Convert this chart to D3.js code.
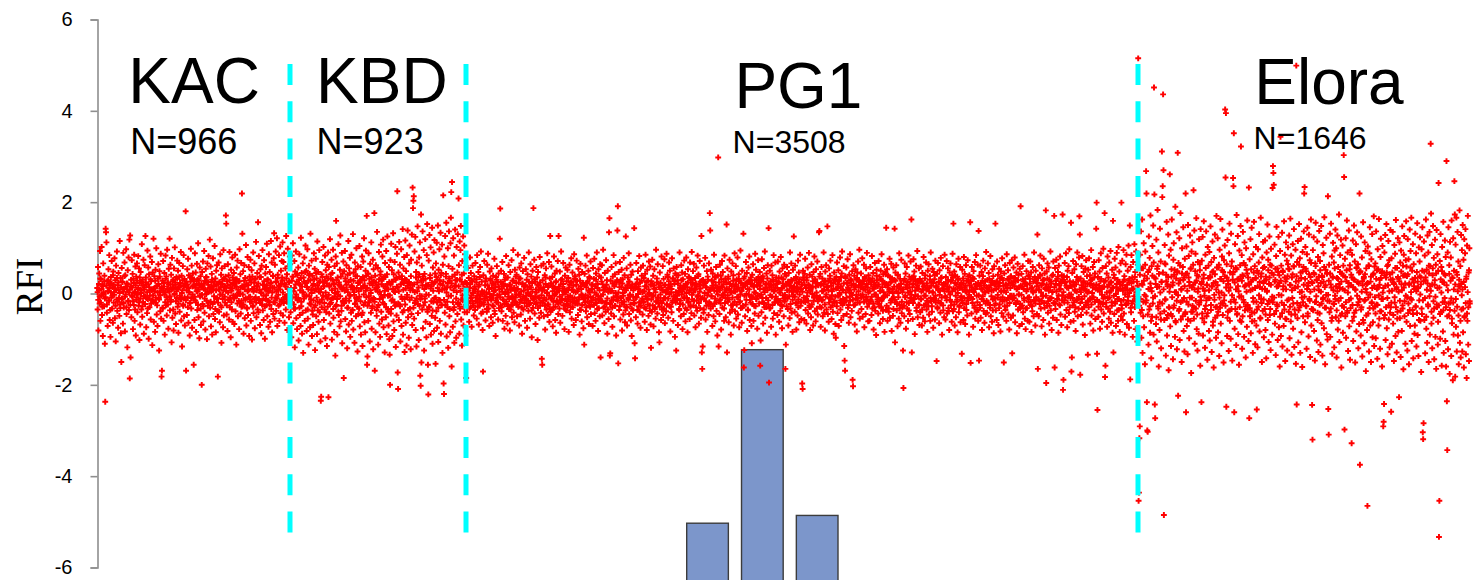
<!DOCTYPE html>
<html><head><meta charset="utf-8">
<script src="https://cdn.jsdelivr.net/npm/d3@7"></script>
<style>body{margin:0;background:#fff}</style>
</head><body><svg id="c" width="1482" height="580"></svg>
<script>
// ---------------- data ----------------
const groups = ["KAC", "KBD", "PG1", "Elora"];
const groupN = [966, 923, 3508, 1646];
const yTicks = [-6, -4, -2, 0, 2, 4, 6];
const barCats = ["b1", "b2", "b3"];
const barValues = [-5.03, -1.23, -4.86];

// RFI values, in plotting order (two passes per group)
const rfiKAC = [
.12,-.35,.58,-.81,.07,.44,-.22,.93,-.6,.31,-.05,1.02,-.47,.19,-.93,.66,.02,-.28,.39,-1.1,
-2.37,1.42,1.34,1.12,-.42,.27,-.71,.05,.53,-.16,.84,-.58,.21,-.95,.36,-.09,.71,-.33,.14,-.64,
.48,-.2,.03,.77,-.54,.29,-1.05,.61,-.13,.92,-.38,.18,-.75,.45,.08,-.49,1.15,-.24,.34,-.87,
-1.5,.56,-.11,.25,-.66,.89,-.31,.1,.68,-.83,.4,-.02,.97,-.45,.22,-1.18,.51,-.17,.79,-.36,
1.18,-1.86,1.27,-1.4,.16,-.52,.73,-.07,.43,-.78,.32,-.25,.85,-.6,.04,.59,-.92,.37,-.14,.66,
-.41,.09,.82,-.27,.55,-1.02,.23,-.68,.47,.01,-.35,1.08,-.51,.3,-.19,.74,-.88,.13,.62,-.06,
1.26,.35,-.74,.2,-.43,.94,-.12,.57,-.99,.42,-.3,.06,.81,-.57,.27,-.15,.69,-1.13,.46,-.04,
1.2,-.62,.38,.11,-.84,.52,-.2,.99,-.46,.17,-.71,.33,.64,-.1,-1.25,.49,.03,-.39,.87,-.55,
-1.82,-1.69,.28,-.33,.71,-.6,.15,.45,-.9,.02,.83,-.26,.37,-.48,.96,-.13,.24,-.77,.54,.08,
1.2,-.37,.63,-.18,.41,-1.07,.78,-.53,.12,.3,-.81,.55,-.02,1.01,-.44,.19,-.67,.36,-.1,.72,
-.29,.5,-.86,.14,.67,-.4,.23,-.13,.91,-.59,.39,-1.16,.07,.6,-.24,.84,-.5,.32,-.7,.18,
1.8,-1.69,.26,-.47,.53,-.08,.76,-.64,.4,.02,-.92,.35,-.2,.98,-.33,.61,-.75,.15,.44,-.11,
-1.56,.31,-.58,.88,-.15,.46,-.84,.21,.65,-.36,.05,1.1,-.52,.29,-.98,.57,-.07,.38,-.69,.13,
-2.0,.47,-.23,.7,-.61,.1,.93,-.42,.28,-.79,.54,-.01,.36,-1.0,.66,-.27,.19,.82,-.5,.04,
1.18,-.31,.59,-.72,.25,.43,-.9,.08,.77,-.45,.16,-.19,1.04,-.56,.33,-.85,.5,-.12,.62,-.38,
-1.82,.22,.68,-.4,.09,-.63,.86,-.26,.41,-1.08,.55,-.03,.3,-.74,.95,-.48,.14,.6,-.2,.37,
1.71,1.53,-.46,.27,-.82,.64,-.14,.4,-.57,.91,-.3,.12,-.96,.52,.06,-.35,.79,-.62,.23,-.09,
.45,-.67,.18,.85,-.39,.31,-1.12,.57,-.05,.72,-.5,.26,.03,-.78,.97,-.21,.42,-.44,.67,-.16,
2.19,1.31,-.28,.49,-.88,.15,.62,-.54,.34,-.1,1.06,-.7,.2,-.33,.8,-.47,.07,.58,-.93,.29,
-.18,.74,-.6,.24,.51,-1.01,.37,-.29,.9,-.43,.11,.66,-.76,.32,-.08,1.13,-.52,.17,.45,-.35,
1.56,-.41,.82,-.15,.36,-.69,.53,.02,-.87,.61,-.24,.95,-.37,.19,-.58,.73,.1,-.99,.44,-.12,
.58,-.26,1.09,-.5,.3,.04,-.73,.86,-.19,.47,-.62,.22,1.15,-.34,.68,-.85,.13,.39,-.45,.77,
1.32,-.55,.63,-.09,.92,-.38,.25,1.21,-.71,.41,.08,-.27,.84,-.6,.16,1.03,-.43,.5,-.17,.71,
.35,1.12,-.48,.69,-.21,.88,-.64,.19,.55,-.35,1.26,-.06,.42,-.8,.98,-.14,.6,-.52,.27,.81
];
const rfiKAC2 = [
.03,-.14,.21,-.06,.33,-.2,.1,-.29,.16,-.01,.27,-.11,-.08,.17,-.24,.05,.29,-.15,.12,-.36,.02,.22,-.05,.4,
.19,-.03,.11,-.27,.07,.34,-.18,.24,-.1,.01,-.32,.14,-.12,.26,.04,-.21,.38,-.07,.15,-.3,.09,.2,-.16,.02,
.08,-.25,.3,-.04,.13,-.17,.23,.01,-.35,.18,-.09,.28,-.02,.12,-.19,.35,-.11,.06,.25,-.28,.17,-.06,.09,-.23,
.24,-.1,.03,-.33,.2,.14,-.05,.31,-.22,.07,-.15,.1,-.18,.05,.28,-.09,.16,-.26,.02,.21,-.13,.37,-.04,.11,
.14,-.31,.06,.23,-.02,-.19,.32,-.08,.1,-.24,.19,.04,-.06,.2,-.14,.09,.27,-.35,.13,-.01,.24,-.17,.05,.33,
.1,-.22,.36,-.05,.18,-.12,.01,.29,-.27,.15,-.08,.22,-.15,.07,.2,-.3,.12,.03,-.21,.26,-.1,.34,-.02,.17,
.27,-.07,.13,-.19,.05,.3,-.25,.09,.18,-.04,-.33,.21,-.03,.16,-.28,.22,-.11,.08,.35,-.16,.02,.25,-.2,.12,
.11,-.18,.04,.3,-.23,.17,-.06,.26,-.34,.07,.19,-.1,-.2,.09,.25,-.02,.14,-.3,.21,-.12,.06,.32,-.07,.16,
.06,-.26,.17,.02,-.13,.29,-.09,.2,-.19,.11,.35,-.04,-.11,.23,-.05,.15,.31,-.22,.08,-.16,.27,-.01,.13,-.29,
.16,-.02,-.24,.28,.09,-.14,.2,-.31,.05,.18,-.08,.37,-.07,.3,-.17,.1,-.26,.04,.24,-.12,.33,-.2,.07,.15,
.22,-.12,.08,-.21,.36,.01,-.15,.19,-.05,.27,-.28,.11,-.04,.18,.31,-.16,.06,-.25,.13,.24,-.09,.02,.38,-.19,
.13,-.2,.26,.05,-.11,.34,-.03,.17,-.24,.09,.21,-.14,.29,.02,-.13,.21,-.07,.15,.33,-.18,.1,-.02,.24,-.09
];

const rfiKBD = [
.64,-.41,.12,-.96,.83,-.2,.37,1.1,-.65,.05,-.33,.71,-1.18,.48,-.09,.92,-.54,.26,-.78,.4,
-.15,.57,-1.03,.3,.86,-.47,.19,-.71,1.22,-.28,.45,-.88,.02,.66,-1.3,.35,-.11,.79,-.6,.23,
1.05,-.37,.5,-.82,.14,.97,-.55,.28,-1.12,.61,-.06,.43,-.74,1.31,-.24,.08,.72,-.93,.39,-.46,
-.69,.21,.88,-.3,.54,-1.24,.1,.76,-.5,.33,-.89,1.14,-.18,.47,-.62,.04,.95,-.41,.27,-1.05,
-2.35,-2.26,.42,-.13,.69,-.77,.25,1.02,-.58,.16,-.35,.83,-.98,.51,-.07,.37,-1.15,.63,-.29,.9,
-2.27,.58,-.44,.18,1.19,-.66,.32,-.2,.74,-1.01,.45,-.1,.96,-.53,.22,-.84,.6,.01,-1.36,.81,
1.59,-.25,.66,-.9,.35,-.03,1.08,-.47,.2,-.72,.52,1.27,-.61,.13,-.38,.89,-1.09,.44,-.16,.7,
-1.85,.49,-.19,.93,-.56,.27,-.83,.62,.09,-1.2,.41,-.31,1.15,-.68,.55,-.04,.78,-.95,.3,-.42,
.85,-.6,.15,-.36,1.3,-.79,.46,.03,-1.08,.68,-.22,.53,-.5,.99,-.14,.38,-1.27,.6,-.45,.24,
-.33,1.04,-.72,.29,.58,-.9,.11,-.47,.81,-1.15,.36,.7,-.25,1.21,-.63,.17,-.85,.5,.94,-.08,
1.7,-1.56,-1.38,.44,-.6,.88,-.19,.32,-1.05,.65,.07,-.42,1.12,-.77,.25,-.28,.74,-1.22,.53,-.12,
1.76,-1.69,.39,-.85,.62,.12,-.49,1.35,-.3,.56,-1.12,.2,.91,-.66,.04,-.95,.48,1.07,-.4,.28,
-.57,.81,-.2,1.18,-.74,.36,-.03,-1.29,.67,.15,-.52,.93,-.89,.42,1.25,-.35,.09,-.7,.58,-1.0,
-1.34,-2.0,.73,-.44,1.09,-.16,.51,-.93,.26,1.32,-.61,.05,-.8,.69,-.27,1.02,-1.17,.34,-.48,.87,
2.24,-1.73,-2.09,.46,-.58,1.13,-.24,.63,-1.05,.2,.97,-.71,.38,-.12,1.41,-.9,.55,-.37,.8,-1.28,
.31,1.16,-.64,.49,-1.14,.84,-.08,1.38,-.52,.22,-.97,.66,1.05,-.33,.12,-1.22,.74,-.45,1.29,-.69,
2.32,1.87,2.03,2.13,-.55,.92,-.21,1.24,-.8,.47,-1.16,.68,.05,1.47,-.43,.36,-1.02,.79,-.27,1.12,
-1.8,-2.02,1.73,-1.51,.61,-.35,1.36,-.76,.29,.95,-1.25,.43,-.11,1.19,-.62,.18,-.96,.84,1.52,-.4,
-1.56,-2.21,.72,-.3,1.28,-.67,.4,1.01,-.9,.16,-.49,1.44,-1.1,.57,-.18,.9,-.82,1.17,.25,-.53,
-1.54,.66,-.39,1.11,-.75,.3,1.49,-1.06,.52,-.14,.97,-.6,.21,1.33,-.88,.45,-.26,1.07,-1.3,.63,
2.15,-1.97,-2.2,.81,-.42,1.26,-.68,.37,1.55,-.94,.14,-.3,.99,-1.19,.6,1.36,-.5,.28,-.85,1.1,
1.66,2.22,-1.6,2.44,.54,-.73,1.21,-.36,.83,-1.08,.41,1.4,-.61,.17,-.97,1.02,.3,-.45,1.3,-.2,
2.08,.62,-.88,1.14,-.33,.95,1.48,-.57,.26,-1.14,.71,-.15,1.25,-.7,.44,1.05,-.41,.86,-.92,.58
];
const rfiKBD2 = [
.05,-.19,.28,-.08,.37,-.24,.12,-.33,.2,-.02,.43,-.14,-.1,.22,-.31,.07,.34,-.18,.15,-.42,.03,.26,-.06,.47,
.23,-.04,.14,-.35,.09,.4,-.22,.29,-.13,.01,-.38,.17,-.15,.31,.06,-.26,.45,-.09,.18,-.37,.11,.24,-.2,.03,
.1,-.3,.36,-.05,.16,-.21,.28,.02,-.41,.22,-.11,.33,-.03,.15,-.23,.42,-.13,.07,.3,-.34,.2,-.07,.11,-.28,
.29,-.12,.04,-.39,.24,.17,-.06,.37,-.27,.09,-.18,.13,-.21,.06,.33,-.11,.19,-.31,.03,.25,-.16,.44,-.05,.14,
.17,-.37,.08,.28,-.03,-.23,.38,-.1,.12,-.29,.23,.05,-.07,.24,-.17,.11,.32,-.42,.16,-.02,.29,-.2,.06,.39,
.12,-.27,.43,-.06,.22,-.15,.01,.35,-.32,.18,-.1,.26,-.18,.09,.24,-.36,.14,.04,-.25,.31,-.12,.41,-.03,.2,
.32,-.09,.16,-.23,.06,.36,-.3,.11,.21,-.05,-.4,.25,-.04,.19,-.34,.26,-.13,.1,.42,-.19,.03,.3,-.24,.15,
.13,-.22,.05,.36,-.28,.2,-.07,.31,-.41,.08,.23,-.12,-.24,.11,.3,-.03,.17,-.36,.25,-.14,.07,.38,-.09,.19,
.07,-.31,.2,.03,-.16,.35,-.11,.24,-.23,.13,.42,-.05,-.13,.28,-.06,.18,.37,-.26,.1,-.19,.32,-.02,.16,-.35,
.19,-.03,-.29,.34,.11,-.17,.24,-.37,.06,.22,-.1,.44,-.09,.36,-.2,.12,-.31,.05,.29,-.15,.4,-.24,.08,.18,
.26,-.14,.1,-.25,.43,.02,-.18,.23,-.06,.33,-.34,.13,-.05,.22,.37,-.19,.07,-.3,.16,.29,-.11,.03,.46,-.23,
.16,-.24,.31,.06,-.13,.41,-.04,.2,-.29,.11,.25,-.17
];

const rfiPG1 = [
-1.85,.23,-.41,.08,.56,-.17,.34,-.62,.12,.79,-.3,.45,-.05,-.73,.27,.61,-.22,.01,-.48,.38,
.15,-.36,.67,-.09,.31,-.55,.84,-.2,.04,.47,-.68,.19,-.27,.58,-.13,.92,-.44,.26,-.01,-.8,
-1.71,.4,-.24,.71,-.06,.18,-.59,.33,.02,-.4,.63,-.15,.87,-.33,.1,-.71,.48,-.08,.29,-.52,
.55,-.11,.22,-.64,.39,-.28,.05,.76,-.45,.14,-.93,.36,-.19,.6,-.04,.25,-.57,.44,-.32,.09,
1.2,1.86,-.26,.5,-.39,.11,.69,-.6,.21,-.14,.43,-.77,.3,.03,-.49,.82,-.23,.16,-.66,.35,
-.07,.62,-.34,.19,-.81,.47,.08,-.25,.73,-.52,.28,-.1,.95,-.42,.13,-.63,.52,-.18,.37,-.02,
.41,-.5,.1,.85,-.29,.24,-.7,.57,-.03,.33,-.46,.66,-.16,-.88,.2,.49,-.35,.06,.78,-.21,
-.6,.17,.53,-.13,.3,-.75,.42,.01,-.38,.9,-.24,.15,-.55,.64,-.06,.37,-.96,.23,.5,-.31,
1.87,-.12,.74,-.44,.26,-.67,.09,.58,-.2,.35,-1.02,.47,-.09,.18,-.53,.8,-.27,.12,-.42,.61,
-1.43,-1.56,.29,-.16,.65,-.5,.07,.4,-.79,.21,.55,-.35,.02,.88,-.47,.14,-.24,.69,-.62,.33,
1.26,-.4,.22,.59,-.11,.36,-.72,.16,-.3,.81,-.05,.44,-.58,.25,-.86,.5,.03,-.19,.71,-.45,
1.26,.06,-.33,.48,-.64,.2,.92,-.15,.31,-.49,.11,.67,-.26,.04,-.78,.39,-.12,.57,-.37,.27,
-.23,.52,-.07,.34,-.84,.13,.63,-.41,.24,-.18,.77,-.55,.08,.46,-.3,.17,-.69,.86,-.1,.38,
.3,-.58,.19,.72,-.22,.05,-.47,.54,-.13,.41,-.9,.28,.65,-.36,.1,-.61,.47,-.04,.23,-.76,
1.22,-1.12,.43,-.2,.61,-.39,.14,.83,-.52,.27,-.08,.5,-.67,.36,.02,-.29,.7,-.45,.19,-.15,
.09,-.71,.56,-.25,.32,.76,-.43,.16,-.6,.44,-.02,.9,-.34,.21,-.82,.53,-.12,.38,-.5,.64,
-1.4,.35,-.17,.62,-.48,.2,.96,-.31,.07,-.65,.45,.13,-.4,.73,-.21,.29,-.88,.5,.04,-.56,
1.34,1.65,-1.36,-1.31,.28,-.44,.58,.06,-.73,.37,-.15,.84,-.5,.19,.42,-.27,.66,-.92,.25,-.06,
1.38,1.91,-1.53,.47,-.36,.14,.69,-.57,.3,-.1,.52,-.81,.22,.01,-.46,.78,-.24,.4,-.63,.12,
1.25,-.3,.55,-.7,.18,.35,-.14,.88,-.45,.26,-.02,.63,-.59,.41,-.93,.16,.48,-.37,.07,-.21,
1.43,-1.09,-1.42,.2,-.52,.67,-.08,.31,-.66,.49,.1,-.28,.82,-.4,.24,-.75,.57,-.17,.39,.03,
-.46,.61,-.19,.34,.05,-.62,.43,.85,-.33,.15,-.8,.52,-.11,.28,-.49,.7,.01,-.26,.59,-.68,
-1.19,.27,-.4,.74,-.05,.39,-.72,.18,.53,-.3,.09,-.55,.96,-.18,.33,-.44,.64,-.09,.22,-.85,
-1.07,.46,-.15,.23,-.58,.81,-.35,.07,.6,-.47,.32,-.1,.75,-.65,.19,.04,-.39,.87,-.24,.41,
.36,-.53,.12,.68,-.28,.5,-.83,.2,.02,-.41,.77,-.16,.33,-.6,.55,-.07,.27,-.95,.44,-.2,
-1.25,.58,-.12,.29,-.69,.4,.06,-.34,.9,-.23,.17,-.5,.62,-.02,.46,-.78,.31,.1,-.45,.72,
-.1,.43,-.61,.21,.79,-.36,.14,-.85,.53,-.2,.37,.03,-.56,.68,-.29,.24,-.43,.91,-.13,.3,
.49,-.26,.65,-.48,.08,.34,-.74,.22,.57,-.15,-.38,.83,-.04,.42,-.66,.19,.71,-.32,.11,-.53,
1.26,-1.29,-1.65,-1.16,.3,-.42,.61,-.11,.25,.78,-.57,.14,-.27,.49,-.84,.37,.02,-.47,.66,-.19,
1.76,1.38,-.33,.52,-.06,.28,-.71,.44,.12,-.5,.85,-.22,.36,-.61,.18,.58,-.38,.05,-.92,.4,
2.98,-1.16,.24,-.45,.63,-.14,.39,-.79,.16,.71,-.31,.47,-.04,.26,-.6,.83,-.21,.33,-.52,.07,
1.51,-1.29,.55,-.18,.32,-.63,.1,.74,-.42,.21,-.9,.48,.03,-.35,.66,-.25,.4,-.7,.15,.88,
-.39,.2,.6,-.55,.31,-.08,.79,-.46,.13,.42,-.74,.27,-.17,.94,-.32,.06,-.64,.5,.19,-.27,
1.31,-1.62,-1.24,.37,-.5,.22,.69,-.14,.45,-.82,.1,-.37,.57,-.03,.81,-.58,.29,-.2,.35,-.71,
-1.09,.41,-.23,.64,-.6,.15,.03,-.44,.87,-.28,.52,-.12,.3,-.77,.18,.73,-.49,.24,-.05,.47,
-1.58,-1.03,.29,-.41,.75,-.19,.38,-.66,.09,.56,-.3,.92,-.53,.21,-.1,.44,-.86,.33,.62,-.24,
1.43,-1.95,.13,.5,-.32,.27,-.73,.61,-.07,.4,-.55,.19,.84,-.43,.06,-.2,.68,-.9,.35,-.12,
.22,-.47,.7,-.16,.34,-.62,.48,.02,-.38,.8,-.25,.12,-.76,.55,-.04,.31,-.5,.63,-.18,.43,
-1.65,-1.12,.39,-.28,.58,-.11,.25,-.7,.45,.07,-.54,.9,-.33,.17,.66,-.42,.28,-.84,.52,-.03,
1.25,.14,-.4,.61,-.21,.36,-.79,.23,.04,-.48,.72,-.13,.46,-.63,.31,.85,-.27,.1,-.56,.19,
-1.97,-2.09,.5,-.17,.29,-.58,.43,.76,-.36,.12,-.66,.35,-.06,.57,-.44,.2,.89,-.3,.41,-.8,
.08,-.52,.64,-.24,.37,.15,-.7,.47,-.09,.81,-.39,.26,-.61,.53,.02,-.33,.7,-.46,.18,-.13,
1.34,1.37,-.29,.43,-.73,.21,.58,-.15,.33,-.5,.06,.9,-.42,.26,-.81,.48,-.07,.62,-.35,.14,
1.47,-.45,.27,-.62,.55,-.1,.39,.72,-.3,.17,-.56,.05,.84,-.4,.23,-.88,.46,-.19,.31,-.67,
-.97,.36,-.2,.68,-.43,.12,.51,-.71,.29,-.03,.79,-.35,.16,-.58,.44,.92,-.25,.07,-.49,.6,
-1.15,-1.47,-1.69,.34,-.16,.57,-.45,.22,.75,-.31,.1,-.64,.41,-.07,.86,-.52,.28,.01,-.38,.49,
-1.89,-2.03,.62,-.26,.39,-.68,.14,.53,-.11,.3,-.83,.46,-.2,.7,-.42,.18,.96,-.55,.25,-.04,
.44,-.34,.19,.77,-.51,.27,-.09,.63,-.74,.36,.08,-.45,.55,-.17,.89,-.29,.13,-.61,.4,-.22,
-.6,.31,.58,-.14,.2,-.47,.82,-.33,.11,.45,-.79,.24,-.02,.67,-.38,.15,-.91,.52,.29,-.18,
.16,-.44,.71,-.23,.37,-.65,.05,.5,-.3,.86,-.12,.28,-.56,.42,-.06,.63,-.84,.2,.47,-.36,
1.44,-.27,.53,-.6,.18,.39,-.4,.04,.76,-.53,.24,-.15,.65,-.82,.33,.1,-.49,.57,-.08,.3,
1.42,-1.07,.46,-.19,.62,-.37,.15,-.72,.41,.01,-.55,.88,-.25,.32,-.64,.21,.74,-.43,.09,-.3,
-1.25,-2.07,.28,-.5,.66,-.08,.44,-.77,.19,.58,-.33,.12,-.6,.83,-.21,.37,-.45,.05,.7,-.15,
1.62,-1.29,.35,-.56,.21,.75,-.12,.48,-.89,.3,-.04,.61,-.38,.14,.93,-.52,.26,-.24,.55,-.69,
.32,-.41,.59,-.13,.27,-.7,.45,.08,-.53,.8,-.26,.17,-.61,.4,-.05,.68,-.35,.22,-.84,.5,
-.28,.64,-.46,.13,.38,-.6,.9,-.17,.25,-.4,.54,.02,-.75,.47,-.1,.31,-.57,.72,-.2,.16,
-1.48,.43,-.3,.67,-.16,.24,-.65,.51,.06,-.42,.78,-.22,.35,-.9,.19,.6,-.37,.11,-.52,.85,
.2,-.57,.36,-.09,.71,-.44,.15,.55,-.32,.04,-.8,.46,-.14,.66,-.26,.29,-.62,.4,.87,-.39,
1.53,-.34,.48,-.7,.23,.09,-.52,.64,-.18,.37,-.85,.3,.76,-.41,.12,-.27,.58,-.63,.2,-.06,
-1.32,.52,-.21,.33,-.58,.8,-.1,.43,-.67,.17,.62,-.36,.05,-.48,.73,-.15,.26,-.9,.4,.07,
1.56,-1.52,.27,-.44,.58,-.12,.35,-.73,.49,.03,-.31,.69,-.55,.21,.84,-.4,.16,-.19,.63,-.6,
1.37,-1.47,.39,-.25,.61,-.53,.1,.47,-.8,.28,-.06,.72,-.38,.18,-.64,.55,.02,-.45,.91,-.16,
-.42,.3,.66,-.2,.45,-.74,.13,-.31,.82,-.5,.24,.07,-.62,.53,-.13,.38,-.87,.6,-.26,.19,
1.53,-.37,.25,-.58,.7,-.09,.41,-.69,.16,.54,-.24,.33,-.83,.48,.04,-.43,.77,-.17,.29,-.51,
-1.51,.44,-.14,.62,-.36,.2,-.6,.86,-.27,.12,.51,-.46,.3,-.79,.67,-.05,.37,-.53,.23,.73,
-1.31,.18,-.48,.57,-.1,.34,.79,-.63,.26,-.2,.46,-.87,.11,.65,-.35,.41,-.02,-.71,.54,-.23,
1.91,-.29,.43,-.67,.15,.6,-.41,.27,-.11,.85,-.55,.32,-.78,.2,.49,-.32,.09,-.6,.71,-.18,
.37,-.62,.22,.7,-.25,.46,-.84,.13,-.39,.58,.02,-.5,.9,-.16,.31,-.7,.5,-.08,.24,-.45,
1.29,-1.65,.34,-.5,.62,-.15,.41,.83,-.33,.18,-.72,.55,-.06,.29,-.58,.76,-.21,.44,-.9,.1,
1.82,-1.96,.48,-.27,.66,-.42,.14,.57,-.66,.3,-.1,.92,-.37,.22,-.8,.39,.04,-.53,.7,-.2,
1.7,-1.62,.56,-.34,.21,.74,-.58,.32,-.13,.47,-.86,.61,-.24,.09,.81,-.46,.27,-.69,.4,-.05,
1.73,-2.11,-1.89,.38,-.2,.67,-.51,.25,.88,-.36,.13,-.74,.5,-.07,.6,-.43,.97,-.3,.17,-.62,
1.55,-1.71,-1.4,.45,-.26,.71,-.6,.19,.53,-.4,.06,-.82,.64,-.15,.36,.9,-.5,.28,-.33,.79,
1.69,1.29,-1.78,.33,-.47,.6,-.12,.82,-.68,.24,.47,-.3,.1,-.91,.55,-.2,.73,-.42,.38,.02,
-1.34,.52,-.3,.77,-.14,.4,-.66,.21,.95,-.48,.31,-.09,.58,-.81,.18,.69,-.37,.44,-.56,.12,
1.42,1.99,-1.32,-2.55,.36,-.51,.73,-.18,.48,-.77,.27,.88,-.35,.1,-.62,.56,-.23,.98,-.44,.15,
1.76,-1.83,-1.58,.6,-.29,.44,-.73,.81,-.1,.35,-.55,.68,.03,-.4,.93,-.64,.25,-.19,.52,-.86,
1.59,-1.29,.41,-.45,.76,-.22,.57,-.71,.14,.89,-.37,.3,-.6,1.02,-.12,.48,-.84,.2,.66,-.5,
1.99,-.33,.72,-.58,.26,.95,-.44,.38,-.9,.13,.64,-.25,.85,-.67,.07,.5,-.16,1.05,-.75,.32,
1.49,-1.88,.58,-.41,.84,-.22,.35,-.95,.69,.11,-.6,1.08,-.3,.47,-.78,.92,-.12,.26,-1.05,.63
];
const rfiPG12 = [
-.03,.14,-.21,.06,-.33,.2,-.1,.29,-.16,.01,-.27,.11,.08,-.17,.24,-.05,-.29,.15,-.12,.36,-.02,-.22,.05,-.4,
-.19,.03,-.11,.27,-.07,-.34,.18,-.24,.1,-.01,.32,-.14,.12,-.26,-.04,.21,-.38,.07,-.15,.3,-.09,-.2,.16,-.02,
-.08,.25,-.3,.04,-.13,.17,-.23,-.01,.35,-.18,.09,-.28,.02,-.12,.19,-.35,.11,-.06,-.25,.28,-.17,.06,-.09,.23,
-.24,.1,-.03,.33,-.2,-.14,.05,-.31,.22,-.07,.15,-.1,.18,-.05,-.28,.09,-.16,.26,-.02,-.21,.13,-.37,.04,-.11,
-.14,.31,-.06,-.23,.02,.19,-.32,.08,-.1,.24,-.19,-.04,.06,-.2,.14,-.09,-.27,.35,-.13,.01,-.24,.17,-.05,-.33,
-.1,.22,-.36,.05,-.18,.12,-.01,-.29,.27,-.15,.08,-.22,.15,-.07,-.2,.3,-.12,-.03,.21,-.26,.1,-.34,.02,-.17,
-.27,.07,-.13,.19,-.05,-.3,.25,-.09,-.18,.04,.33,-.21,.03,-.16,.28,-.22,.11,-.08,-.35,.16,-.02,-.25,.2,-.12,
-.11,.18,-.04,-.3,.23,-.17,.06,-.26,.34,-.07,-.19,.1,.2,-.09,-.25,.02,-.14,.3,-.21,.12,-.06,-.32,.07,-.16,
-.06,.26,-.17,-.02,.13,-.29,.09,-.2,.19,-.11,-.35,.04,.11,-.23,.05,-.15,-.31,.22,-.08,.16,-.27,.01,-.13,.29,
-.16,.02,.24,-.28,-.09,.14,-.2,.31,-.05,-.18,.08,-.37,.07,-.3,.17,-.1,.26,-.04,-.24,.12,-.33,.2,-.07,-.15,
-.22,.12,-.08,.21,-.36,-.01,.15,-.19,.05,-.27,.28,-.11,.04,-.18,-.31,.16,-.06,.25,-.13,-.24,.09,-.02,-.38,.19,
-.13,.2,-.26,-.05,.11,-.34,.03,-.17,.24,-.09,-.21,.14,-.29,-.02,.13,-.21,.07,-.15,-.33,.18,-.1,.02,-.24,.09,
-.11,.27,-.01,.16,-.29,.1,-.2,.33,-.06,.21,-.14,.03,.4,-.05,.22,.02,-.36,.12,-.15,.29,.05,-.24,.17,-.08,
.14,-.32,.01,-.1,.24,-.18,.34,.07,-.27,.11,-.03,.19,.02,-.16,.2,.09,-.3,.15,-.07,.38,-.21,.04,.26,-.12,
.28,-.09,.18,-.35,.01,.23,-.17,.13,-.04,.3,-.25,.08,-.23,.09,-.06,.17,-.28,.25,.06,-.11,.35,-.19,.12,-.02,
.1,-.15,.07,-.22,.31,-.05,.14,.2,-.33,.03,-.1,.24,.11,-.04,.37,-.13,.21,.02,-.26,.16,-.09,.28,.05,-.18,
.04,.19,-.24,.1,-.08,.32,-.19,-.02,.23,.06,-.31,.14,.33,-.05,.17,-.24,-.01,.24,-.35,.27,.09,-.14,.2,-.06,
.22,-.08,.15,-.27,.29,.01,-.12,.18,-.05,.36,-.22,.1,.17,-.02,.34,-.1,.26,-.21,.03,.12,-.3,.2,.07,-.15,
.21,-.33,-.04,.18,.09,-.25,.3,.05,-.19,.13,-.07,.27,.12,-.2,.25,.02,-.16,.08,.35,-.28,.22,-.11,.16,-.03,
-.1,.19,.07,-.34,.26,-.06,.17,-.23,.3,.04,-.14,.11,.15,-.07,.32,.06,-.21,.14,-.3,.25,-.02,.09,-.18,.2,
.04,.35,-.09,.19,-.19,-.13,.29,.02,-.16,.17,-.26,.06,-.29,.13,-.01,.27,-.16,-.08,.31,.15,-.05,.23,-.17,-.11,
.37,-.08,.18,-.31,.05,-.14,.2,.09,-.24,.28,-.02,.16,.15,.07,-.2,.33,-.12,.24,-.04,-.26,.1,-.17,.3,-.07,
.11,-.28,.2,-.05,.27,.01,-.15,.36,-.21,.08,-.12,.22,-.19,.38,.02,-.09,.24,.13,-.25,.06,-.16,.31,.18,-.04,
-.14,.21,.09,-.24,.17,-.03,.34,-.11,.05,.26,-.2,.13,-.09,.24,-.02,.1,-.18,.33,.15,-.07,.21,-.13,.02,.29,
.05,-.17,.25,-.07,.33,-.22,.11,-.3,.18,-.02,.39,-.13,-.09,.2,-.28,.06,.31,-.16,.14,-.38,.03,.23,-.05,.42,
.21,-.04,.13,-.32,.08,.36,-.2,.26,-.12,.01,-.34,.15,-.14,.28,.05,-.23,.4,-.08,.16,-.33,.1,.22,-.18,.03,
.09,-.27,.32,-.05,.14,-.19,.25,.02,-.37,.2,-.1,.3,-.03,.14,-.21,.38,-.12,.06,.27,-.31,.18,-.06,.1,-.25,
.26,-.11,.04,-.35,.22,.15,-.05,.33,-.24,.08,-.16,.12,-.19,.05,.3,-.1,.17,-.28,.03,.23,-.14,.4,-.05,.13,
.15,-.33,.07,.25,-.03,-.21,.34,-.09,.11,-.26,.21,.05,-.06,.22,-.15,.1,.29,-.38,.14,-.02,.26,-.18,.05,.35,
.11,-.24,.39,-.05,.2,-.14,.01,.32,-.29,.16,-.09,.23,-.16,.08,.22,-.32,.13,.04,-.23,.28,-.11,.37,-.03,.18,
.29,-.08,.14,-.21,.05,.32,-.27,.1,.19,-.05,-.36,.23,-.04,.17,-.31,.23,-.12,.09,.38,-.17,.03,.27,-.22,.14,
.12,-.2,.05,.32,-.25,.18,-.06,.28,-.37,.07,.21,-.11,-.22,.1,.27,-.03,.15,-.32,.23,-.13,.06,.34,-.08,.17,
.06,-.28,.18,.03,-.14,.32,-.1,.22,-.21,.12,.38,-.05,-.12,.25,-.05,.16,.33,-.23,.09,-.17,.29,-.02,.14,-.32,
.17,-.03,-.26,.31,.1,-.15,.22,-.33,.05,.2,-.09,.4,-.08,.32,-.18,.11,-.28,.05,.26,-.14,.36,-.22,.07,.16,
.23,-.13,.09,-.23,.39,.02,-.16,.21,-.05,.3,-.31,.12,-.05,.2,.33,-.17,.06,-.27,.14,.26,-.1,.03,.41,-.21,
.14,-.22,.28,.05,-.12,.37,-.04,.18,-.26,.1,.23,-.15,.3,.03,-.15,.24,-.08,.17,.36,-.2,.12,-.02,.27,-.1,
-.02,.16,-.1,.25,-.19,.08,-.3,.2,.04,-.13,.31,-.07,.09,-.21,.03,.18,-.34,.12,.27,-.06,.15,-.25,.06,.22,
-.17,.04,.2,-.11,.29,-.24,.01,.13,-.08,.35,-.18,.1,.2,-.14,.08,-.29,.17,.05,-.21,.32,-.03,.14,-.11,.26,
-.07,.28,-.2,.02,.15,-.33,.19,-.09,.24,.06,-.27,.12,.13,-.05,.34,-.18,-.01,.21,-.12,.07,-.36,.25,.1,-.16,
-.25,.18,.06,-.14,.3,-.02,.11,-.22,.19,-.07,.28,.01,.07,-.31,.23,.1,-.17,.26,-.06,.36,-.15,.03,-.24,.17
];

const rfiElora = [
5.15,-4.54,-4.36,-3.17,-2.91,.85,-.42,1.36,-.97,.21,1.62,-1.3,.55,-.18,1.1,-.74,.39,-1.55,.92,-.06,
2.68,2.19,-2.38,-3.0,-3.03,.47,-1.12,1.25,-.35,.78,-.86,1.71,.12,-1.42,.6,-.51,1.04,-.22,1.49,-.9,
4.51,2.17,-2.43,-2.73,.33,-.67,1.18,-1.05,.54,1.83,-.28,.9,-1.6,.15,-.8,1.42,-.44,.7,-1.2,.26,
3.11,2.11,2.35,4.36,2.7,-4.85,-.58,1.06,-.13,.64,-1.36,.41,1.57,-.92,.2,-.47,1.29,-1.68,.83,-.31,
2.61,-.72,.96,-1.15,.37,1.62,-.5,.18,-1.44,.74,1.1,-.26,.52,-.95,1.9,-.63,.03,1.34,-1.22,.46,
3.08,-2.24,.67,-.38,1.21,-1.02,.29,1.76,-.57,.08,-1.5,.99,-.16,.58,1.45,-.82,.35,-1.27,.76,-.45,
2.19,-2.6,1.03,-.71,.44,-1.33,1.5,-.24,.82,-.98,.17,1.27,-.6,.55,-1.74,.92,-.09,1.12,-.4,.63,
2.26,-.55,1.38,-1.1,.24,.87,-.33,1.65,-.78,.4,-1.25,.69,.11,-.88,1.19,-.2,.51,-1.58,1.41,-.15,
-2.38,.72,-.44,1.24,-.92,.33,1.58,-.63,.06,-1.19,.85,-.27,1.36,-.5,.2,-1.45,1.02,-.1,.61,-.82,
.91,-1.03,.38,1.47,-.36,.69,-1.28,.15,1.14,-.7,.49,-1.62,.78,-.14,1.29,-.53,.25,-.97,1.7,-.29,
-.48,1.21,-.85,.57,.02,-1.37,.96,-.31,1.63,-.66,.32,-1.09,.81,1.4,-.22,.47,-1.51,.73,-.04,1.05,
4.03,2.54,3.95,-2.48,.64,-.93,1.17,-.4,.28,-1.26,.88,1.53,-.6,.13,-.99,1.31,-.34,.7,-1.47,.42,
2.53,2.35,3.51,-2.6,-.77,1.08,-.2,.56,-1.13,1.72,-.46,.31,1.26,-.89,.05,-1.56,.94,-.3,.62,1.48,
3.22,-.62,.84,-1.21,.4,1.35,-.14,.67,-.95,1.12,-.37,.18,-1.4,.99,.52,-.73,1.6,-.25,.35,-1.04,
2.32,-2.73,.75,-.5,1.19,-.87,.26,1.44,-.61,.09,-1.3,.86,-.18,1.57,-.42,.6,-1.11,.33,1.02,-.7,
-2.54,.5,-1.18,.97,-.29,.68,1.3,-.83,.14,-.55,1.66,-.12,.44,-1.5,.79,-.38,1.13,.23,-.96,.58,
-.34,1.16,-.8,.37,-1.42,.9,.06,1.51,-.58,.74,-1.06,.21,1.25,-.47,.63,-1.24,.98,-.15,.45,-.9,
2.31,2.79,2.64,2.38,-.45,1.07,-.66,.3,-1.35,.82,1.46,-.24,.55,-1.02,.16,1.24,-.74,.4,-1.6,.93,
3.43,-.93,.61,-.2,1.33,-1.16,.47,.09,-.71,1.58,-.35,.85,-1.48,.26,1.12,-.56,.72,-1.25,.38,1.01,
.54,-.4,1.27,-.98,.19,1.64,-.61,.83,-1.34,.35,-.1,1.08,-.77,.6,1.41,-1.17,.13,-.46,.96,-1.54,
4.99,-2.43,.69,-.54,1.15,-1.07,.28,1.52,-.3,.77,-1.3,.46,1.2,-.85,.04,-1.61,.91,-.19,.58,1.36,
2.19,2.33,-.63,1.02,-.27,.49,-1.21,.86,1.44,-.5,.17,-.94,1.29,-.12,.73,-1.39,.36,1.62,-.7,.25,
-2.44,-3.2,.95,-.37,1.23,-.82,.42,-1.47,.66,1.55,-.18,.3,-1.03,1.14,-.58,.8,-1.28,.07,1.37,-.44,
.71,-1.12,.23,1.48,-.65,.39,-1.36,1.06,-.09,.88,-.76,1.67,.14,-1.55,.52,-.31,1.22,-.89,.45,-1.01,
2.13,-2.53,-3.09,.63,-.41,1.31,-.95,.2,1.53,-.6,.81,-1.32,.37,1.11,-.22,.68,-1.18,.94,-.05,1.4,
-.52,.99,-1.4,.34,1.27,-.79,.58,-.16,1.73,-1.06,.12,.84,-.48,1.18,-1.62,.44,-.27,1.05,-.86,.61,
3.03,2.55,-2.98,.76,-.5,1.21,-.97,.27,1.6,-.38,.9,-1.26,.15,1.38,-.72,.53,-1.45,.95,-.11,.41,
-3.28,.85,-.6,1.16,-1.04,.31,1.49,-.42,.7,-1.51,.08,1.08,-.83,.57,1.34,-.25,.64,-1.2,.22,-.67,
2.19,-3.75,.47,-.92,1.25,-.3,.79,-1.38,.18,1.56,-.64,.36,-1.09,1.12,-.14,.93,-1.7,.55,.02,-.8,
-4.65,1.03,-.44,.62,-1.27,.88,1.45,-.7,.26,-1.5,.75,-.19,1.3,-.96,.41,-.33,1.69,-1.15,.59,-.08,
.66,-.98,1.36,-.24,.51,-1.43,.97,.13,-.7,1.63,-.55,.3,-1.21,.8,1.2,-.39,.45,-1.6,1.04,-.12,
-2.91,-2.81,-2.42,.9,-.47,1.28,-1.02,.35,1.52,-.76,.6,-1.33,.18,1.15,-.57,.73,-1.18,.42,1.39,-.3,
-2.59,.77,-1.1,.46,1.35,-.66,.24,-1.48,1.06,-.2,.87,-.93,1.61,.1,-1.29,.56,-.4,1.21,-.84,.32,
-2.27,1.12,-.54,.68,-1.39,.94,.2,-.82,1.47,-.33,.61,-1.66,.85,1.26,-.17,.4,-1.1,.73,1.58,-.62,
.38,-1.25,1.19,-.43,.75,-1.55,.22,1.4,-.71,.93,-.11,1.66,-1.04,.5,-.36,1.08,-1.42,.64,.16,-.88,
-.7,1.31,-.28,.88,-1.16,.47,1.54,-.91,.12,-1.37,1.01,-.15,.7,1.23,-.6,.35,-1.72,.97,-.45,1.45,
-3.04,-3.19,-2.84,1.14,-.58,.83,-1.31,.29,1.62,-.77,.52,-1.08,1.27,-.24,.9,-1.5,.44,1.35,-.9,.6,
3.28,1.75,-.66,1.06,-1.2,.4,1.48,-.53,.78,-1.44,.19,1.18,-.95,.63,-1.65,1.39,-.3,.86,-1.12,.5,
2.42,-5.33,-4.54,.71,-.99,1.3,-.4,.58,-1.58,1.02,.25,-.83,1.57,-1.3,.43,-.19,1.16,-1.04,.8,-1.6,
2.9,-2.36,-3.43,.9,-1.22,1.45,-.48,.62,-1.76,1.13,-.2,.79,-1.37,1.6,-.65,.35,-1.9,1.21,-.9,.5,
2.46,1.73,-1.82,1.07,-.73,1.66,-1.27,.41,1.35,-.92,.7,-1.55,.16,1.82,-1.08,.6,-1.4,1.28,-.35,.95,
-1.27,1.5,-.85,.74,-1.62,1.19,-.5,.88,1.41,-1.33,.32,-1.85,1.05,-.6,1.7,-1.12,.46,-1.48,.99,-.22
];
const rfiElora2 = [
.08,-.27,.41,-.12,.55,-.36,.19,-.5,.28,-.03,.63,-.2,-.15,.33,-.46,.1,.52,-.28,.22,-.6,.05,.39,-.09,.68,
.35,-.06,.21,-.52,.14,.6,-.33,.43,-.19,.02,-.57,.25,-.22,.46,.09,-.39,.66,-.13,.27,-.54,.16,.36,-.3,.04,
.15,-.45,.53,-.08,.24,-.31,.41,.03,-.6,.33,-.16,.49,-.04,.22,-.34,.61,-.19,.1,.44,-.5,.3,-.1,.16,-.41,
.43,-.18,.06,-.57,.35,.25,-.09,.54,-.4,.13,-.27,.19,-.31,.09,.49,-.16,.28,-.46,.04,.37,-.24,.64,-.07,.21,
.25,-.54,.11,.41,-.05,-.34,.56,-.15,.18,-.43,.34,.07,-.1,.35,-.25,.16,.47,-.62,.23,-.03,.42,-.3,.09,.57,
.18,-.4,.63,-.09,.32,-.22,.02,.51,-.47,.27,-.15,.38,-.27,.13,.35,-.53,.21,.06,-.37,.46,-.18,.6,-.04,.3,
.47,-.13,.24,-.34,.09,.53,-.44,.16,.31,-.07,-.59,.37,-.06,.28,-.5,.38,-.19,.15,.62,-.28,.04,.44,-.35,.22,
.19,-.32,.07,.53,-.41,.3,-.1,.46,-.6,.12,.34,-.18,-.35,.16,.44,-.04,.25,-.53,.37,-.21,.1,.56,-.13,.28,
.1,-.46,.3,.04,-.23,.51,-.16,.35,-.34,.19,.61,-.07,-.19,.41,-.09,.26,.54,-.38,.15,-.28,.47,-.03,.23,-.51,
.28,-.04,-.43,.5,.16,-.25,.35,-.55,.09,.32,-.15,.64,-.13,.53,-.29,.18,-.46,.07,.42,-.22,.59,-.35,.12,.26,
.38,-.21,.15,-.37,.63,.03,-.26,.34,-.09,.48,-.5,.19,-.07,.32,.54,-.28,.1,-.44,.23,.42,-.16,.04,.67,-.34,
.23,-.35,.45,.09,-.19,.6,-.06,.29,-.42,.16,.37,-.25,.51,.04,-.22,.36,-.12,.26,.58,-.31,.18,-.03,.43,-.16,
-.03,.28,-.17,.44,-.33,.13,-.53,.35,.07,-.23,.55,-.12,.16,-.37,.05,.32,-.6,.21,.47,-.1,.26,-.44,.1,.39,
-.3,.07,.36,-.19,.51,-.42,.02,.23,-.14,.62,-.32,.18,.35,-.25,.14,-.51,.3,.09,-.37,.56,-.05,.25,-.19,.46,
-.12,.49,-.35,.04,.27,-.58,.33,-.16,.42,.1,-.48,.21,.23,-.09,.6,-.32,-.02,.37,-.21,.12,-.63,.44,.17,-.28,
-.44,.32,.1,-.25,.53,-.04,.19,-.39,.34,-.12,.49,.02,.12,-.54,.4,.17,-.3,.46,-.1,.63,-.26,.05,-.42,.3,
-.2,.06,.31,-.47,.21,-.08,.56,-.3,.14,-.55,.36,.04,.27,-.16,-.38,.48,.07,-.26,.39,.13,-.5,.22,-.05,.59,
-.08,.42,-.22,.19,-.36,.57,.03,-.14,.31,-.45,.24,.1,.34,-.29,.05,-.43,.26,.14,-.58,.38,-.02,.2,-.33,.5,
-.15,.27,.48,-.1,.35,-.51,.08,.22,-.28,.61,-.06,.16,.06,-.4,.2,.55,-.17,-.33,.29,-.07,.44,-.24,.12,-.62,
-.26,.13,-.45,.31,.02,.49,-.19,-.37,.24,-.1,.4,-.3,.18,-.5,.07,-.22,.43,-.36,.28,-.11,-.55,.34,-.2,.09,
-.38,.2,-.12,.47,-.29,.05,-.48,.3,.15,-.6,.21,-.04,.09,-.33,.25,-.52,.14,-.21,.37,-.44,.03,-.3,.51,-.17
];

const series = [[rfiKAC, rfiKAC2], [rfiKBD, rfiKBD2], [rfiPG1, rfiPG12], [rfiElora, rfiElora2]];

// ---------------- layout ----------------
const svg = d3.select("#c");
svg.append("rect").attr("width", 1482).attr("height", 580).attr("fill", "#fff");

const cum = [0];
groupN.forEach(n => cum.push(cum[cum.length - 1] + n));

const y = d3.scaleLinear().domain([-6, 6]).range([567.5, 19.5]);
// piecewise index scale with the group boundaries as placed in the figure
const x = d3.scaleLinear().domain(cum).range([97, 290, 466, 1138, 1470]);

const SANS = "'Liberation Sans', Arial, Helvetica, sans-serif";

// inset bars (drawn beneath the points)
const xb = d3.scaleBand().domain(barCats).range([686.7, 838]).paddingInner(0.24).paddingOuter(0);
svg.append("g").selectAll("rect").data(barValues).join("rect")
  .attr("x", (d, i) => xb(barCats[i]))
  .attr("width", xb.bandwidth())
  .attr("y", d => y(d))
  .attr("height", d => y(-7) - y(d))
  .attr("fill", "#7c96cb")
  .attr("stroke", "#3c3c3c")
  .attr("stroke-width", 1.4);

// y axis
const ax = svg.append("g").attr("transform", "translate(97.5,0)")
  .call(d3.axisLeft(y).tickValues(yTicks).tickSize(7).tickPadding(18).tickFormat(d => String(d)));
ax.select(".domain").attr("stroke", "#8e8e8e").attr("stroke-width", 1.6);
ax.selectAll(".tick line").attr("stroke", "#8e8e8e").attr("stroke-width", 1.6);
ax.selectAll(".tick text").attr("font-family", SANS).attr("font-size", 20).attr("fill", "#000");

// points
const pts = [];
series.forEach((arrs, g) => {
  arrs.forEach((arr, k) => {
    const n = arr.length;
    arr.forEach((v, i) => pts.push({ idx: cum[g] + (i + 0.5 + 0.37 * k) / (n + 0.37 * k) * groupN[g], v }));
  });
});
const cross = d3.symbol().type(d3.symbolCross).size(19)();
svg.append("g").selectAll("path").data(pts).join("path")
  .attr("d", cross)
  .attr("transform", d => `translate(${x(d.idx)},${y(d.v)})`)
  .attr("fill", "#ff0000");

// dashed group dividers
svg.append("g").selectAll("line").data(cum.slice(1, 4)).join("line")
  .attr("x1", d => x(d)).attr("x2", d => x(d))
  .attr("y1", 64).attr("y2", 533)
  .attr("stroke", "#00ffff").attr("stroke-width", 5)
  .attr("stroke-dasharray", "21,16.3");

// group labels
const labelPos = [[128.3, 103.3], [316, 103.3], [734.4, 108.3], [1254.3, 104]];
const nPos = [[130.3, 154, 36], [316.6, 154, 36], [732.6, 153.3, 32], [1253.6, 149.3, 32]];
const tg = svg.append("g").attr("font-family", SANS).attr("fill", "#000");
groups.forEach((g, i) => {
  tg.append("text").attr("x", labelPos[i][0]).attr("y", labelPos[i][1])
    .attr("font-size", 64).text(g);
  tg.append("text").attr("x", nPos[i][0]).attr("y", nPos[i][1])
    .attr("font-size", nPos[i][2]).text("N=" + groupN[i]);
});

// y axis title
svg.append("text")
  .attr("transform", "translate(41.5,286.5) rotate(-90)")
  .attr("text-anchor", "middle")
  .attr("font-family", "'Liberation Serif', 'Times New Roman', serif")
  .attr("font-size", 37)
  .text("RFI");
</script>
</body></html>
